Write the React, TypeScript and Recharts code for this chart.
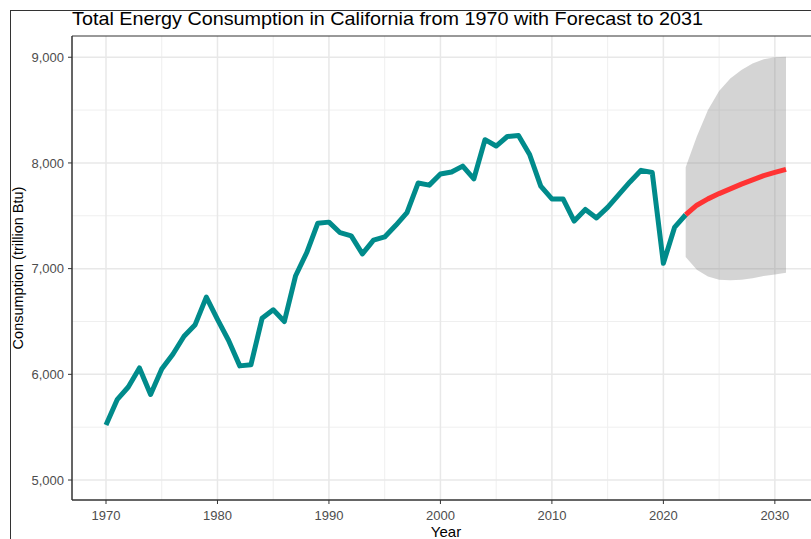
import { Area, CartesianGrid, ComposedChart, Line, ReferenceArea, XAxis, YAxis } from 'recharts'

// Consumo anual (trillion Btu), 1970–2022, e a previsão 2022–2031
// com a faixa de confiança (limite inferior / superior).
const histYears = [
  1970, 1971, 1972, 1973, 1974, 1975, 1976, 1977, 1978, 1979,
  1980, 1981, 1982, 1983, 1984, 1985, 1986, 1987, 1988, 1989,
  1990, 1991, 1992, 1993, 1994, 1995, 1996, 1997, 1998, 1999,
  2000, 2001, 2002, 2003, 2004, 2005, 2006, 2007, 2008, 2009,
  2010, 2011, 2012, 2013, 2014, 2015, 2016, 2017, 2018, 2019,
  2020, 2021, 2022,
]
const consumption = [
  5520, 5760, 5880, 6060, 5810, 6050, 6190, 6360, 6470, 6730,
  6520, 6320, 6080, 6090, 6530, 6610, 6500, 6930, 7150, 7430,
  7440, 7340, 7310, 7140, 7270, 7300, 7410, 7530, 7810, 7790,
  7895, 7915, 7970, 7850, 8220, 8160, 8250, 8260, 8080, 7780,
  7660, 7660, 7450, 7560, 7480, 7580, 7700, 7820, 7930, 7910,
  7050, 7390, 7510,
]
const forecastYears = [2023, 2024, 2025, 2026, 2027, 2028, 2029, 2030, 2031]
// a previsão começa no último ponto observado (2022)
const forecast = [7510, 7600, 7660, 7710, 7755, 7800, 7840, 7880, 7910, 7940]
const bandLow = [7110, 6990, 6925, 6895, 6890, 6895, 6910, 6930, 6945, 6960]
const bandHigh = [7960, 8250, 8500, 8680, 8800, 8880, 8940, 8980, 9000, 9005]

const xTicks = [1970, 1980, 1990, 2000, 2010, 2020, 2030]
const xMinor = [1975, 1985, 1995, 2005, 2015, 2025]
const yTicks = [5000, 6000, 7000, 8000, 9000]
const yMinor = [5500, 6500, 7500, 8500]

const allYears = [...histYears, ...forecastYears]
const rows = allYears.map((year, i) => {
  const f = i - (histYears.length - 1)
  return {
    year,
    actual: i < histYears.length ? consumption[i] : null,
    forecast: f >= 0 ? forecast[f] : null,
    band: f >= 0 ? [bandLow[f], bandHigh[f]] : null,
  }
})

const font = '"Liberation Sans", Arial, sans-serif'
const tickStyle = { fill: '#4d4d4d', fontSize: 13, fontFamily: font }
const X_DOMAIN: [number, number] = [1966.95, 2034.05]
const Y_DOMAIN: [number, number] = [4811, 9201]

export default function App() {
  return (
    <div style={{ position: 'fixed', left: 0, top: 0, width: 811, height: 539, overflow: 'hidden', background: '#fff' }}>
      <div style={{ position: 'absolute', left: 10, top: 10, width: 900, height: 700, border: '1px solid #333', boxSizing: 'border-box' }} />
      <div style={{ position: 'absolute', left: 0, top: 0 }}>
        <ComposedChart width={840} height={560} data={rows} margin={{ top: 36, right: 20, left: 0, bottom: 30 }}>
          <CartesianGrid horizontalValues={yMinor} verticalValues={xMinor} stroke="#efefef" strokeWidth={1} />
          <CartesianGrid horizontalValues={yTicks} verticalValues={xTicks} stroke="#e8e8e8" strokeWidth={1.5} />
          <XAxis
            dataKey="year"
            type="number"
            domain={X_DOMAIN}
            allowDataOverflow
            ticks={xTicks}
            tick={tickStyle}
            tickSize={4}
            tickMargin={7}
            height={30}
            axisLine={{ stroke: '#333' }}
            tickLine={{ stroke: '#333' }}
          />
          <YAxis
            type="number"
            domain={Y_DOMAIN}
            allowDataOverflow
            ticks={yTicks}
            tick={tickStyle}
            tickFormatter={(v: number) => v.toLocaleString('en-US')}
            tickSize={4}
            tickMargin={4}
            width={72}
            axisLine={{ stroke: '#333' }}
            tickLine={{ stroke: '#333' }}
          />
          <Area
            dataKey="band"
            type="linear"
            stroke="none"
            fill="#808080"
            fillOpacity={0.34}
            isAnimationActive={false}
            activeDot={false}
          />
          <Line
            dataKey="actual"
            type="linear"
            stroke="#008b8b"
            strokeWidth={5}
            strokeLinejoin="round"
            dot={false}
            activeDot={false}
            isAnimationActive={false}
          />
          <Line
            dataKey="forecast"
            type="linear"
            stroke="#ff3333"
            strokeWidth={5}
            strokeLinejoin="round"
            dot={false}
            activeDot={false}
            isAnimationActive={false}
          />
          <ReferenceArea x1={X_DOMAIN[0]} x2={X_DOMAIN[1]} y1={Y_DOMAIN[0]} y2={Y_DOMAIN[1]} fill="none" stroke="#333" strokeWidth={1} />
        </ComposedChart>
      </div>
      <svg width={811} height={539} style={{ position: 'absolute', left: 0, top: 0, pointerEvents: 'none' }}>
        <text x={72} y={25} fontSize={19} textLength={631} lengthAdjust="spacingAndGlyphs" fontFamily={font} fill="#000">
          Total Energy Consumption in California from 1970 with Forecast to 2031
        </text>
        <text transform="translate(23,268) rotate(-90)" textAnchor="middle" fontSize={14.5} fontFamily={font} fill="#000">
          Consumption (trillion Btu)
        </text>
        <text x={446} y={537} textAnchor="middle" fontSize={15} fontFamily={font} fill="#000">
          Year
        </text>
      </svg>
    </div>
  )
}
